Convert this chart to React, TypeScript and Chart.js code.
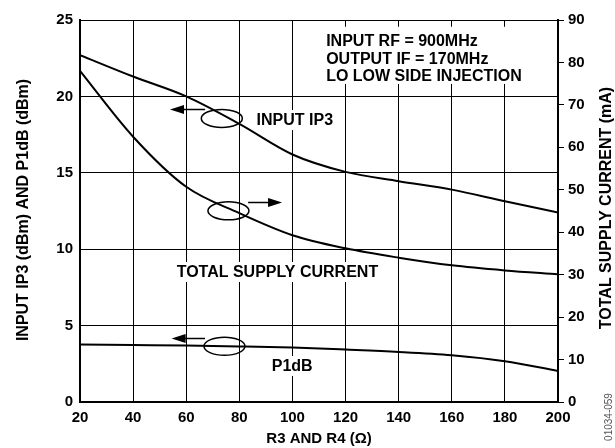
import React, { useEffect, useRef } from "react";
import { Chart, registerables } from "chart.js";

Chart.register(...registerables);

// ---- data ----
const resistance = [20, 40, 60, 80, 100, 120, 140, 160, 180, 200];
const inputIP3 = [22.7, 21.3, 20.0, 18.2, 16.2, 15.06, 14.45, 13.9, 13.14, 12.4];
const p1dB = [3.76, 3.73, 3.7, 3.64, 3.56, 3.43, 3.28, 3.06, 2.67, 2.03];
const supplyCurrent = [78.0, 62.5, 50.7, 44.5, 39.3, 36.2, 34.0, 32.2, 31.0, 30.1];

const leftTicks = [0, 5, 10, 15, 20, 25];
const rightTicks = [0, 10, 20, 30, 40, 50, 60, 70, 80, 90];

const xTitle = "R3 AND R4 (Ω)";
const leftTitle = "INPUT IP3 (dBm) AND P1dB (dBm)";
const rightTitle = "TOTAL SUPPLY CURRENT (mA)";
const figureId = "01034-059";
const infoLines = ["INPUT RF = 900MHz", "OUTPUT IF = 170MHz", "LO LOW SIDE INJECTION"];

// annotation anchors in data units (x: ohms, y: left axis dBm)
const curveLabels = [
  { text: "INPUT IP3", x: 86.5, y: 18.45 },
  { text: "TOTAL SUPPLY CURRENT", x: 56.4, y: 8.51 },
  { text: "P1dB", x: 92.2, y: 2.36 },
];
const infoAnchor = { x: 112.7, y: 23.64, lineStep: 1.15 };
const ellipses = [
  { cx: 73.4, cy: 18.56, ax0: 67.1, ax1: 53.9, ay: 19.2 },
  { cx: 75.9, cy: 12.51, ax0: 83.3, ax1: 96.1, ay: 13.08 },
  { cx: 74.4, cy: 3.65, ax0: 67.1, ax1: 54.5, ay: 4.22 },
];

const FONT = "'Liberation Sans', Arial, Helvetica, sans-serif";
const LABEL_FONT = `bold 16px ${FONT}`;

const annotationPlugin = {
  id: "annots",
  beforeDatasetsDraw(chart: any) {
    const ctx = chart.ctx;
    const xs = chart.scales.x;
    const ys = chart.scales.y;
    ctx.save();
    ctx.font = LABEL_FONT;
    ctx.fillStyle = "#fff";
    for (const l of curveLabels) {
      const w = ctx.measureText(l.text).width;
      const x = xs.getPixelForValue(l.x);
      const y = ys.getPixelForValue(l.y);
      ctx.fillRect(x - 3, y - 10, w + 6, 20);
    }
    let maxW = 0;
    for (const t of infoLines) maxW = Math.max(maxW, ctx.measureText(t).width);
    const ix = xs.getPixelForValue(infoAnchor.x);
    const iy0 = ys.getPixelForValue(infoAnchor.y);
    const iy1 = ys.getPixelForValue(infoAnchor.y - infoAnchor.lineStep * (infoLines.length - 1));
    ctx.fillRect(ix - 5, iy0 - 14, maxW + 10, iy1 - iy0 + 22);
    ctx.restore();
  },
  afterDatasetsDraw(chart: any) {
    const ctx = chart.ctx;
    const xs = chart.scales.x;
    const ys = chart.scales.y;
    ctx.save();
    ctx.font = LABEL_FONT;
    ctx.fillStyle = "#000";
    ctx.textAlign = "left";
    ctx.textBaseline = "middle";
    for (const l of curveLabels) {
      ctx.fillText(l.text, xs.getPixelForValue(l.x), ys.getPixelForValue(l.y) + 1);
    }
    const ix = xs.getPixelForValue(infoAnchor.x);
    infoLines.forEach((t, i) => {
      ctx.fillText(t, ix, ys.getPixelForValue(infoAnchor.y - i * infoAnchor.lineStep) + 1);
    });
    ctx.strokeStyle = "#000";
    ctx.lineWidth = 1.5;
    for (const e of ellipses) {
      ctx.beginPath();
      ctx.ellipse(xs.getPixelForValue(e.cx), ys.getPixelForValue(e.cy), 20.5, 9, 0, 0, Math.PI * 2);
      ctx.stroke();
      const x0 = xs.getPixelForValue(e.ax0);
      const x1 = xs.getPixelForValue(e.ax1);
      const y = Math.round(ys.getPixelForValue(e.ay)) + 0.5;
      const dir = Math.sign(x1 - x0);
      ctx.beginPath();
      ctx.moveTo(x0, y);
      ctx.lineTo(x1 - dir * 10, y);
      ctx.stroke();
      ctx.beginPath();
      ctx.moveTo(x1, y);
      ctx.lineTo(x1 - dir * 14, y - 4.5);
      ctx.lineTo(x1 - dir * 14, y + 4.5);
      ctx.closePath();
      ctx.fill();
    }
    ctx.restore();
  },
  afterDraw(chart: any) {
    const ctx = chart.ctx;
    const area = chart.chartArea;
    ctx.save();
    ctx.fillStyle = "#000";
    ctx.font = `bold 15px ${FONT}`;
    ctx.textAlign = "center";
    ctx.textBaseline = "middle";
    ctx.fillText(xTitle, (area.left + area.right) / 2, 439);
    ctx.font = `bold 16px ${FONT}`;
    ctx.save();
    ctx.translate(24, 210);
    ctx.rotate(-Math.PI / 2);
    ctx.fillText(leftTitle, 0, 0);
    ctx.restore();
    ctx.save();
    ctx.translate(607, 208);
    ctx.rotate(-Math.PI / 2);
    ctx.fillText(rightTitle, 0, 0);
    ctx.restore();
    ctx.save();
    ctx.fillStyle = "#555";
    ctx.font = `10px ${FONT}`;
    ctx.translate(609, 417);
    ctx.rotate(-Math.PI / 2);
    ctx.fillText(figureId, 0, 0);
    ctx.restore();
    ctx.restore();
  },
};

export default function App() {
  const ref = useRef<HTMLCanvasElement | null>(null);
  useEffect(() => {
    if (!ref.current) return;
    const mk = (ys: number[]) => resistance.map((x, i) => ({ x, y: ys[i] }));
    const lineStyle = {
      borderColor: "#000",
      borderWidth: 2,
      pointRadius: 0,
      cubicInterpolationMode: "monotone" as const,
      fill: false,
    };
    const tickFont = { family: FONT, size: 15, weight: "bold" as const };
    const chart = new Chart(ref.current, {
      type: "line",
      data: {
        datasets: [
          { label: "INPUT IP3", data: mk(inputIP3), yAxisID: "y", ...lineStyle },
          { label: "P1dB", data: mk(p1dB), yAxisID: "y", ...lineStyle },
          { label: "TOTAL SUPPLY CURRENT", data: mk(supplyCurrent), yAxisID: "y2", ...lineStyle },
        ],
      },
      options: {
        animation: false,
        responsive: false,
        devicePixelRatio: 1,
        layout: { padding: { top: 20, left: 0, right: 0, bottom: 0 } },
        plugins: { legend: { display: false }, tooltip: { enabled: false } },
        scales: {
          x: {
            type: "linear",
            min: 20,
            max: 200,
            afterBuildTicks: (s: any) => {
              s.ticks = resistance.map((v) => ({ value: v }));
            },
            afterFit: (s: any) => {
              s.height = 46;
            },
            grid: { color: "#000", lineWidth: 1, drawTicks: false },
            border: { display: true, color: "#000", width: 2 },
            ticks: { color: "#000", font: tickFont, padding: 7, maxRotation: 0 },
          },
          y: {
            type: "linear",
            position: "left",
            min: 0,
            max: 25,
            afterBuildTicks: (s: any) => {
              s.ticks = leftTicks.map((v) => ({ value: v }));
            },
            afterFit: (s: any) => {
              s.width = 80;
            },
            grid: { color: "#000", lineWidth: 1, drawTicks: false },
            border: { display: true, color: "#000", width: 2 },
            ticks: { color: "#000", font: tickFont, padding: 7 },
          },
          y2: {
            type: "linear",
            position: "right",
            min: 0,
            max: 90,
            afterBuildTicks: (s: any) => {
              s.ticks = rightTicks.map((v) => ({ value: v }));
            },
            afterFit: (s: any) => {
              s.width = 57;
            },
            grid: { color: "#000", lineWidth: 1, drawOnChartArea: false, drawTicks: true, tickLength: 6 },
            border: { display: true, color: "#000", width: 2 },
            ticks: { color: "#000", font: tickFont, padding: 4 },
          },
        },
      },
      plugins: [annotationPlugin],
    } as any);
    return () => chart.destroy();
  }, []);
  return (
    <div style={{ position: "fixed", left: 0, top: 0, width: 615, height: 448, background: "#fff" }}>
      <canvas ref={ref} width={615} height={448} style={{ width: 615, height: 448, display: "block" }} />
    </div>
  );
}
